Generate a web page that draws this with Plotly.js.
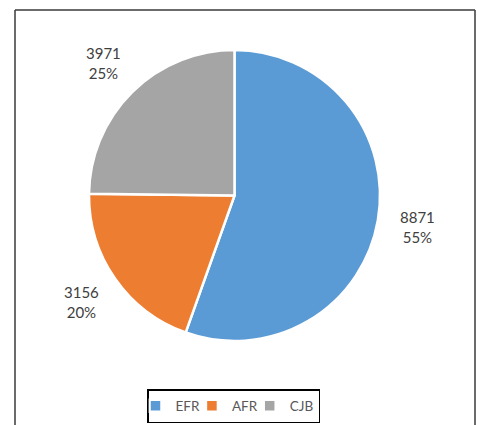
<!DOCTYPE html>
<html>
<head>
<meta charset="utf-8">
<script src="https://cdn.plot.ly/plotly-3.0.1.min.js"></script>
<style>html,body{margin:0;padding:0;background:#fff;}#chart{width:477px;height:425px;}</style>
</head>
<body>
<div id="chart"></div>
<script>
const categories = ["EFR", "AFR", "CJB"];
const values = [8871, 3156, 3971];
const colors = ["#5B9BD5", "#ED7D31", "#A5A5A5"];

const W = 477, H = 425;
const cx = 234.5, cy = 195.5, R = 145.5, labelR = 186;

const total = values.reduce((a, b) => a + b, 0);
let cum = 0;
const annotations = values.map((v, i) => {
  const mid = (cum + v / 2) / total * 2 * Math.PI;
  cum += v;
  const px = cx + labelR * Math.sin(mid);
  const py = cy - labelR * Math.cos(mid);
  return {
    xref: "paper", yref: "paper",
    x: px / W, y: 1 - py / H,
    xanchor: "center", yanchor: "middle",
    showarrow: false,
    text: v + "<br>" + Math.round(v / total * 100) + "%",
    font: {family: "Lato, 'Open Sans', sans-serif", size: 15, color: "#404040"},
    align: "center"
  };
});

const trace = {
  type: "pie",
  labels: categories,
  values: values,
  sort: false,
  direction: "clockwise",
  rotation: 0,
  marker: {colors: colors, line: {color: "#ffffff", width: 2.5}},
  textinfo: "none",
  hoverinfo: "label+value+percent",
  domain: {x: [(cx - R) / W, (cx + R) / W], y: [1 - (cy + R) / H, 1 - (cy - R) / H]}
};

const borderColor = "#3a3a3a";
const layout = {
  width: W, height: H,
  margin: {l: 0, r: 0, t: 0, b: 0},
  paper_bgcolor: "#ffffff",
  showlegend: true,
  legend: {
    orientation: "h",
    x: 233.5 / W, xanchor: "center",
    y: 1 - 389 / H, yanchor: "top",
    bordercolor: "#000000", borderwidth: 1.5,
    font: {family: "Lato, 'Open Sans', sans-serif", size: 13.5, color: "#595959"},
    itemwidth: 30,
    indentation: -13
  },
  annotations: annotations,
  shapes: [
    {type: "line", xref: "paper", yref: "paper", x0: 15 / W, x1: 15 / W, y0: 0, y1: 1 - 10 / H, line: {color: borderColor, width: 1.5}},
    {type: "line", xref: "paper", yref: "paper", x0: 15 / W, x1: 475 / W, y0: 1 - 10 / H, y1: 1 - 10 / H, line: {color: borderColor, width: 1.5}},
    {type: "line", xref: "paper", yref: "paper", x0: 475 / W, x1: 475 / W, y0: 0, y1: 1 - 10 / H, line: {color: borderColor, width: 1.5}}
  ]
};

Plotly.newPlot("chart", [trace], layout, {displayModeBar: false, staticPlot: true});
</script>
</body>
</html>
